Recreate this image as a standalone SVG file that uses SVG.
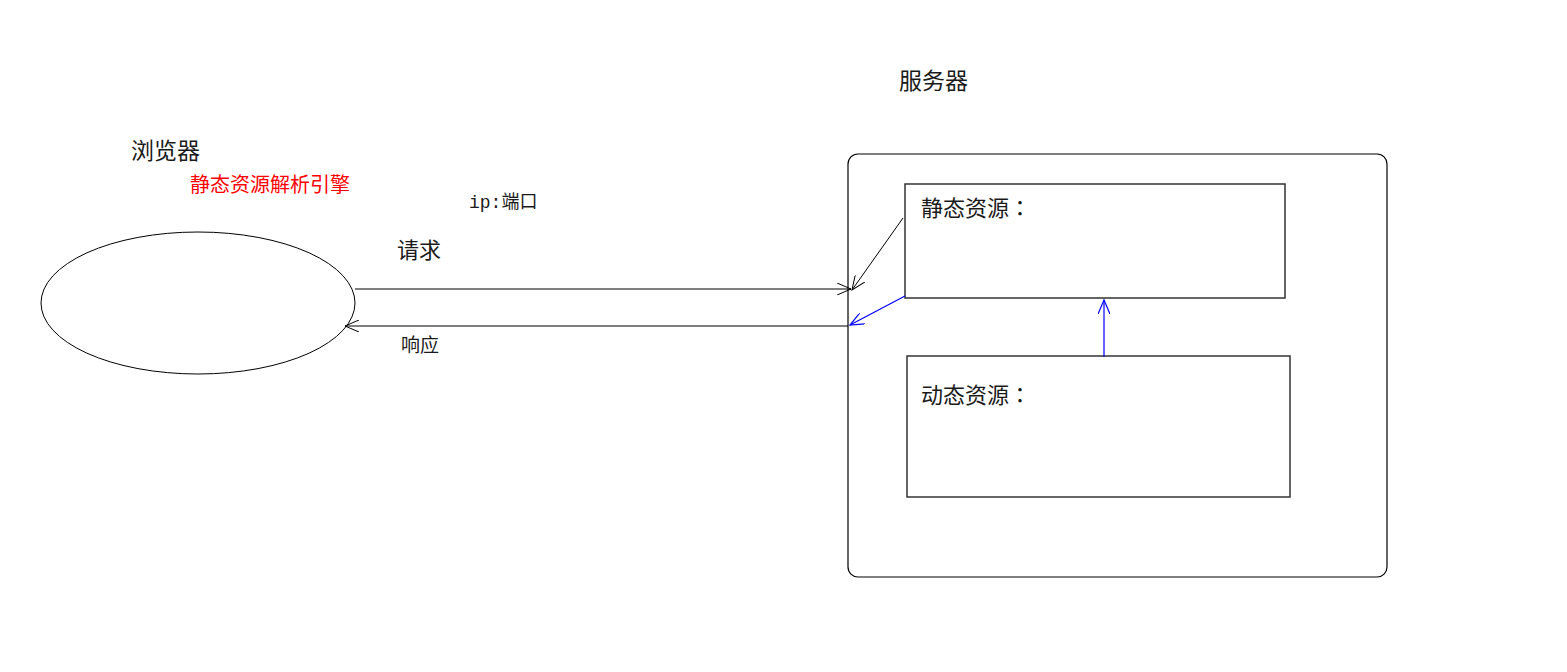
<svg xmlns="http://www.w3.org/2000/svg" width="1567" height="672" viewBox="0 0 1567 672">
<style>
text{font-family:"Microsoft YaHei","Noto Sans CJK SC",sans-serif;fill:#1a1a1a}
.big{font-size:23px}
.box-t{font-size:22px}
.mid{font-size:19px}
.red{fill:#ff0000;font-size:20px}
.mono{font-family:"Liberation Mono","Noto Sans CJK SC",monospace;font-size:18px}
.col{font-family:"Noto Sans CJK TC","Noto Sans CJK JP",sans-serif}
.k{fill:none;stroke:#000;stroke-width:1}
.box{fill:#fff;stroke:#333;stroke-width:1.5}
.blue{fill:none;stroke:#0000ff;stroke-width:1.2}
</style>
<defs>
<marker id="ak" markerWidth="16" markerHeight="12" refX="14" refY="6" orient="auto" markerUnits="userSpaceOnUse">
<path d="M0,0 L14,6 L0,12" fill="none" stroke="#000" stroke-width="1"/>
</marker>
<marker id="ab" markerWidth="16" markerHeight="12" refX="14" refY="6" orient="auto" markerUnits="userSpaceOnUse">
<path d="M0,0 L14,6 L0,12" fill="none" stroke="#0000ff" stroke-width="1.2"/>
</marker>
</defs>
<rect width="1567" height="672" fill="#fff"/>
<g id="browser">
<ellipse cx="198" cy="303" rx="157" ry="71" fill="#fff" stroke="#000" stroke-width="1"/>
<text x="131" y="159" class="big">浏览器</text>
<text x="190" y="192" class="red">静态资源解析引擎</text>
</g>
<g id="server">
<rect x="848" y="154" width="539" height="423" rx="10" fill="#fff" stroke="#000" stroke-width="1.2"/>
<text x="899" y="89" class="big">服务器</text>
</g>
<g id="static">
<rect x="905" y="184" width="380" height="114" class="box"/>
<text x="921" y="216" class="box-t">静态资源<tspan class="col">：</tspan></text>
</g>
<g id="dynamic">
<rect x="907" y="356" width="383" height="141" class="box"/>
<text x="921" y="403" class="box-t">动态资源<tspan class="col">：</tspan></text>
</g>
<g id="labels">
<text x="469" y="208" class="mono">ip:端口</text>
<text x="397" y="258" class="box-t">请求</text>
<text x="401" y="352" class="mid">响应</text>
</g>
<g id="connectors">
<line x1="355" y1="289" x2="851" y2="289" class="k" marker-end="url(#ak)"/>
<line x1="848" y1="326" x2="345" y2="326" class="k" marker-end="url(#ak)"/>
<line x1="903" y1="218" x2="852" y2="290" class="k" marker-end="url(#ak)"/>
<line x1="905" y1="296" x2="850" y2="325" class="blue" marker-end="url(#ab)"/>
<line x1="1104" y1="357" x2="1104" y2="300" class="blue" marker-end="url(#ab)"/>
</g>
</svg>
